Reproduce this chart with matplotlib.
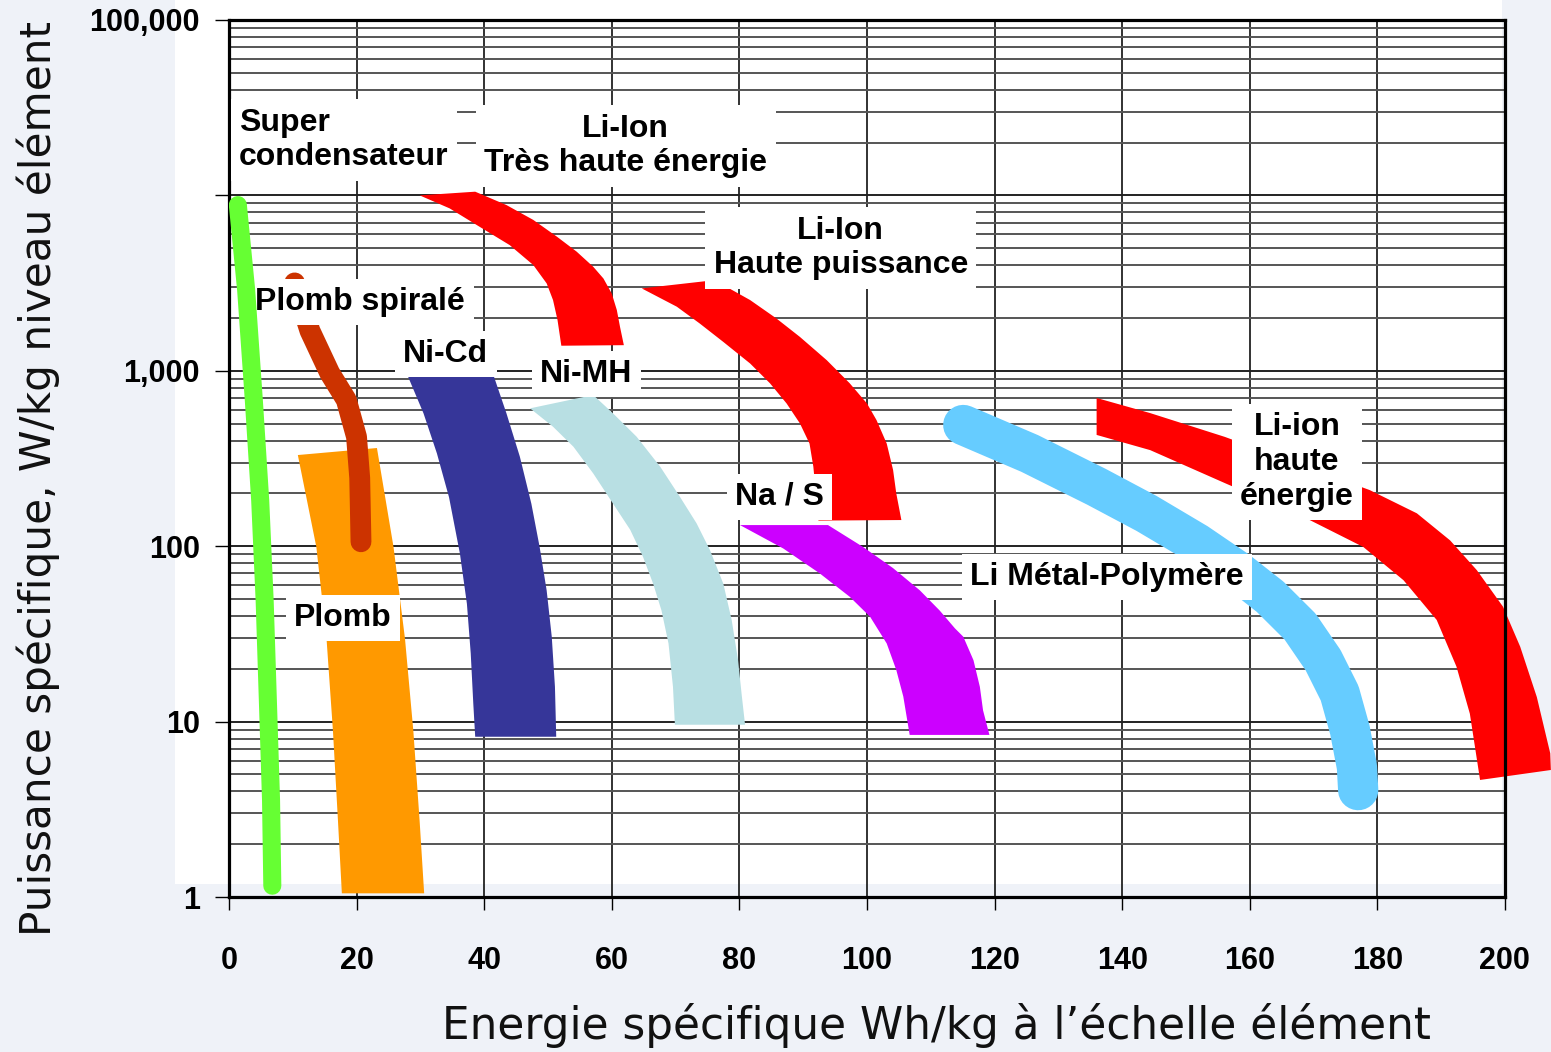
import matplotlib
matplotlib.use("Agg")
import matplotlib.pyplot as plt
import matplotlib.patches as patches
import numpy as np

plt.rcParams['font.family'] = ['Liberation Sans', 'DejaVu Sans']

# Diagramme de Ragone : puissance spécifique vs énergie spécifique

# Super condensateur (ligne centrale)
supercond_e = [1.4, 2.7, 3.9, 4.9, 5.6, 6.1, 6.6, 6.8]
supercond_p = [8810, 2890, 682, 183, 49, 13.3, 3.57, 1.16]

# Plomb spiralé (ligne centrale)
spirale_e = [10.3, 12.7, 15.8, 18.4, 20.0, 20.5, 20.7]
spirale_p = [3170, 1690, 971, 682, 420, 245, 106]

# Plomb (bande)
plomb_e_g = [10.8, 13.7, 15.3, 16.3, 17.1, 17.7]
plomb_p_g = [331, 99, 29.6, 8.9, 2.68, 1.05]
plomb_e_d = [23.2, 25.8, 27.6, 28.9, 29.9, 30.6]
plomb_p_d = [363, 99, 29.6, 8.9, 2.68, 1.05]

# Ni-Cd
nicd_e_g = [27.9, 30.5, 32.6, 34.5, 36.2, 37.3, 37.9, 38.3, 38.6]
nicd_p_g = [959, 572, 338, 190, 91, 47, 24.5, 12.7, 8.2]
nicd_e_d = [41.4, 43.5, 45.6, 47.4, 48.7, 49.8, 50.6, 51.1, 51.3]
nicd_p_d = [959, 572, 324, 175, 99, 56, 30.5, 15.8, 8.2]

# Ni-MH
nimh_e_g = [47.2, 50.8, 54.0, 57.1, 60.2, 62.9, 64.9, 66.5, 67.8, 68.9, 69.6, 69.9]
nimh_p_g = [611, 480, 369, 260, 175, 124, 87, 61, 43, 27.9, 15.8, 9.6]
nimh_e_d = [57.1, 60.2, 63.9, 67.6, 70.7, 73.3, 75.4, 77.5, 78.8, 79.8, 80.4, 80.9]
nimh_p_d = [728, 572, 421, 284, 191, 135, 95, 61, 38, 22.4, 13.9, 9.6]

# Li-Ion très haute énergie
lithe_e_g = [29.9, 34.6, 39.3, 44.0, 47.7, 49.8, 50.8, 51.5, 52.1]
lithe_p_g = [10000, 8430, 6620, 5210, 4010, 3150, 2530, 1950, 1390]
lithe_e_d = [38.6, 43.5, 47.7, 51.4, 54.5, 57.1, 58.7, 60.0, 60.8, 61.3, 61.9]
lithe_p_d = [10500, 8810, 7250, 5820, 4780, 3920, 3360, 2760, 2220, 1780, 1400]

# Li-Ion haute puissance
lihp_e_g = [64.7, 70.2, 73.8, 77.5, 81.7, 84.8, 87.4, 89.5, 91.0, 91.6, 92.4]
lihp_p_g = [2950, 2320, 1860, 1460, 1100, 849, 652, 501, 385, 284, 140]
lihp_e_d = [76.2, 77.5, 81.7, 85.8, 89.5, 93.7, 97.3, 100.0, 101.5, 103.1, 104.1, 104.6, 105.4]
lihp_p_d = [3290, 3080, 2530, 1990, 1560, 1150, 849, 652, 524, 385, 272, 200, 141]

# Na / S
nas_e_g = [80.1, 86.9, 92.6, 97.3, 100.5, 103.1, 104.6, 105.7, 106.7]
nas_p_g = [132, 97, 70, 51.5, 39.6, 27.9, 19.7, 13.9, 8.4]
nas_e_d = [93.9, 99.4, 104.1, 108.3, 111.4, 113.8, 115.1, 116.7, 117.7, 118.2, 119.2]
nas_p_d = [132, 99, 75, 56, 43, 34, 30.5, 22.4, 15.8, 11.6, 8.4]

# Li Métal-Polymère (ligne centrale)
limp_e = [115.1, 125.5, 136.0, 143.8, 151.7, 157.9, 163.2, 167.9, 171.5, 174.1, 175.7, 176.8, 177.0]
limp_p = [491, 338, 218, 154, 104, 73, 51.5, 34.8, 22.4, 14.5, 8.96, 5.53, 4.07]

# Li-ion haute énergie
lihe_e_h = [136.0, 144.4, 156.1, 178.8, 186.2, 191.4, 195.6, 199.7, 202.4, 205.0, 207.1, 207.2]
lihe_p_h = [700, 574, 420, 209, 154, 108, 73, 45.2, 26.7, 13.8, 6.6, 5.3]
lihe_e_b = [136.0, 144.4, 156.1, 169.4, 177.8, 184.1, 189.3, 192.4, 194.5, 196.1]
lihe_p_b = [431, 353, 229, 141, 99, 64, 38, 20.6, 11.1, 4.65]

# Étiquettes (texte, énergie, puissance, alignement)
etiquettes = [
    ("Super\ncondensateur", 1.57, 20700, 'left'),
    ("Li-Ion\nTrès haute énergie", 62.2, 19100, 'center'),
    ("Li-Ion\nHaute puissance", 95.9, 5020, 'center'),
    ("Plomb spiralé", 20.6, 2470, 'center'),
    ("Ni-Cd", 34.0, 1250, 'center'),
    ("Ni-MH", 56.0, 959, 'center'),
    ("Na / S", 86.3, 191, 'center'),
    ("Plomb", 17.9, 39, 'center'),
    ("Li Métal-Polymère", 137.6, 66.7, 'center'),
    ("Li-ion\nhaute\nénergie", 167.4, 302, 'center'),
]

xticks = [0, 20, 40, 60, 80, 100, 120, 140, 160, 180, 200]
yticks = [1, 10, 100, 1000, 10000, 100000]
ytick_labels = ['1', '10', '100', '1,000', '', '100,000']

fond = '#eff2f8'


def bande(ax, e_g, p_g, e_d, p_d, couleur, clip=True):
    xs = list(e_g) + list(e_d)[::-1]
    ys = list(p_g) + list(p_d)[::-1]
    poly = ax.fill(xs, ys, color=couleur, lw=0, zorder=2)
    for p in poly:
        p.set_clip_on(clip)


fig = plt.figure(figsize=(15.51, 10.52), dpi=100, facecolor=fond)
# panneau blanc derrière le graphique
fig.patches.append(patches.Rectangle((0.1128, 0.1597), 0.8556, 0.8403,
                                     transform=fig.transFigure, facecolor='white',
                                     edgecolor='none', zorder=0))
ax = fig.add_axes([0.1476, 0.1473, 0.8227, 0.8337])
ax.set_zorder(1)
ax.set_facecolor('none')
ax.set_yscale('log')
ax.set_xlim(0, 200)
ax.set_ylim(1, 100000)

# grille
ax.set_axisbelow(True)
ax.grid(True, which='major', axis='y', color='#222222', lw=1.4)
ax.grid(True, which='minor', axis='y', color='#555555', lw=1.4)
ax.grid(True, which='major', axis='x', color='#222222', lw=1.3)

# bandes
bande(ax, plomb_e_g, plomb_p_g, plomb_e_d, plomb_p_d, '#ff9900')
ax.plot(spirale_e, spirale_p, color='#cc3300', lw=15, solid_capstyle='round',
        solid_joinstyle='round', zorder=3)
ax.plot(supercond_e, supercond_p, color='#66ff33', lw=13, solid_capstyle='round',
        solid_joinstyle='round', zorder=6)
bande(ax, nicd_e_g, nicd_p_g, nicd_e_d, nicd_p_d, '#363699')
bande(ax, nimh_e_g, nimh_p_g, nimh_e_d, nimh_p_d, '#b8dfe3')
bande(ax, lithe_e_g, lithe_p_g, lithe_e_d, lithe_p_d, '#ff0000')
bande(ax, lihp_e_g, lihp_p_g, lihp_e_d, lihp_p_d, '#ff0000')
bande(ax, nas_e_g, nas_p_g, nas_e_d, nas_p_d, '#cc00ff')
ax.plot(limp_e, limp_p, color='#66ccff', lw=29, solid_capstyle='round',
        solid_joinstyle='round', zorder=3)
bande(ax, lihe_e_b, lihe_p_b, lihe_e_h, lihe_p_h, '#ff0000', clip=False)

for txt, e, p, ha in etiquettes:
    ax.text(e, p, txt, ha=ha, va='center', fontsize=23, fontweight='bold',
            multialignment='center' if ha == 'center' else 'left',
            linespacing=1.2, zorder=5,
            bbox=dict(facecolor='white', edgecolor='none', pad=6))

# axes
ax.set_xticks(xticks)
ax.set_xticklabels([str(v) for v in xticks])
ax.set_yticks(yticks)
ax.set_yticklabels(ytick_labels)
ax.yaxis.set_minor_formatter(matplotlib.ticker.NullFormatter())
ax.tick_params(axis='y', which='minor', length=0)
ax.tick_params(axis='x', length=9, width=1, pad=26, labelsize=22)
ax.tick_params(axis='y', which='major', length=10, width=1, pad=11, labelsize=22)
for lab in ax.get_xticklabels() + ax.get_yticklabels():
    lab.set_fontweight('bold')
for s in ax.spines.values():
    s.set_linewidth(2.3)
    s.set_color('black')

fig.text(0.604, 0.025, "Energie spécifique Wh/kg à l’échelle élément", ha='center',
         va='center', fontsize=31.5, family='DejaVu Sans', color='#111111')
fig.text(0.0245, 0.545, "Puissance spécifique, W/kg niveau élément", ha='center',
         va='center', rotation=90, fontsize=30.3, family='DejaVu Sans', color='#111111')

fig.savefig('out.png', dpi=100, facecolor=fond)
